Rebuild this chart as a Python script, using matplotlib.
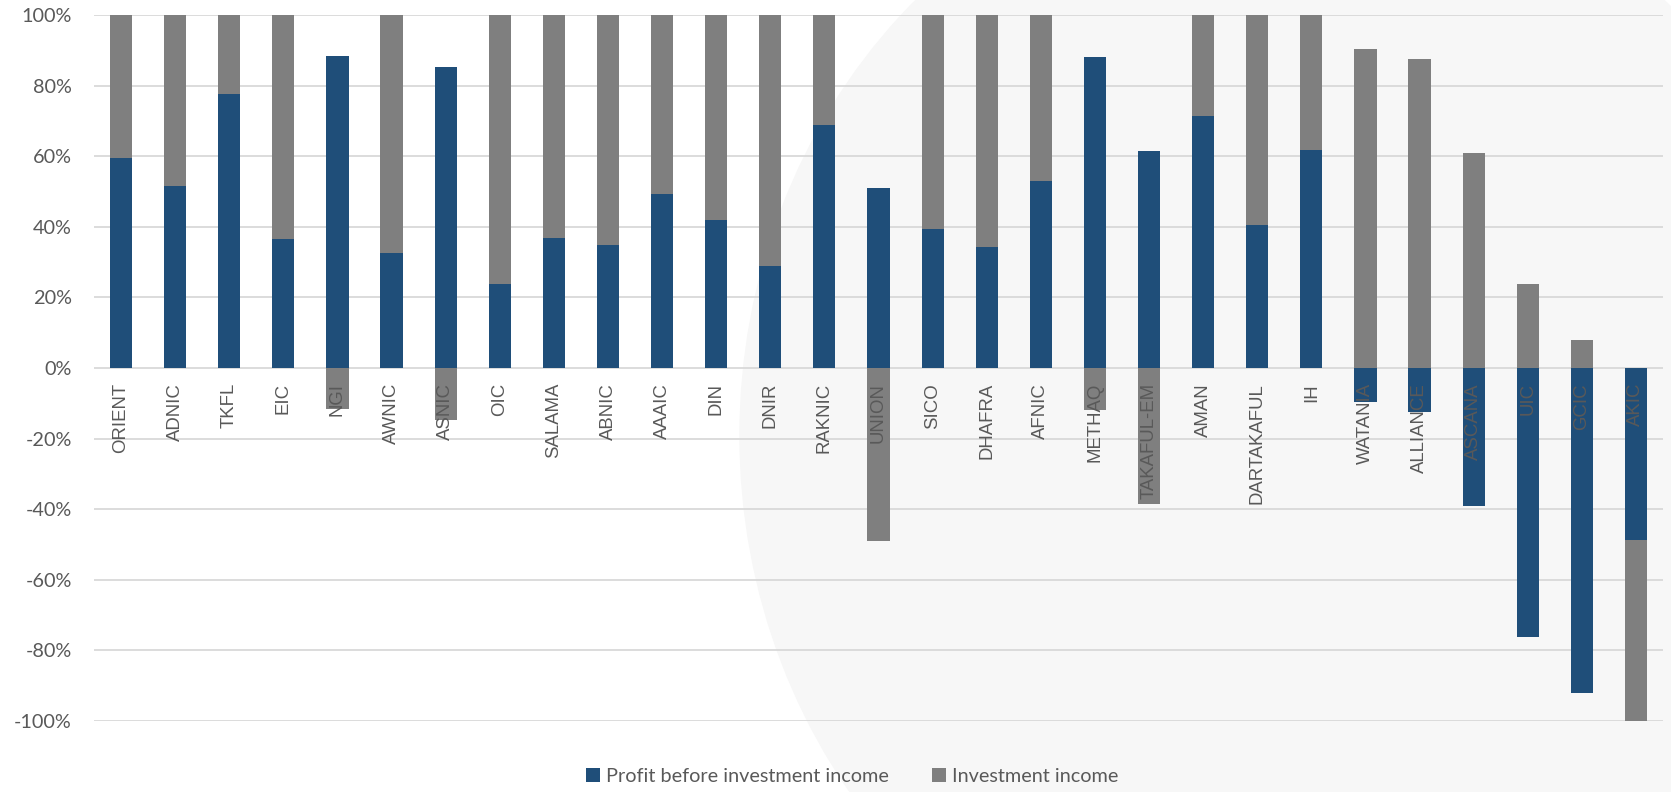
import matplotlib
matplotlib.use("Agg")
import matplotlib.pyplot as plt
import matplotlib.patches as patches
import matplotlib.transforms as mtransforms
from matplotlib.ticker import FuncFormatter

companies = ["ORIENT", "ADNIC", "TKFL", "EIC", "NGI", "AWNIC", "ASNIC", "OIC",
             "SALAMA", "ABNIC", "AAAIC", "DIN", "DNIR", "RAKNIC", "UNION", "SICO",
             "DHAFRA", "AFNIC", "METHAQ", "TAKAFUL-EM", "AMAN", "DARTAKAFUL", "IH",
             "WATANIA", "ALLIANCE", "ASCANA", "UIC", "GCIC", "AKIC"]
profit = [59.5, 51.6, 77.5, 36.5, 88.4, 32.5, 85.2, 23.7, 36.7, 34.8, 49.4, 41.8,
          28.9, 68.8, 51.0, 39.3, 34.2, 52.9, 88.0, 61.5, 71.3, 40.4, 61.7,
          -9.7, -12.5, -39.0, -76.3, -92.2, -48.6]
invest = [40.5, 48.4, 22.5, 63.5, -11.6, 67.5, -14.8, 76.3, 63.3, 65.2, 50.6, 58.2,
          71.1, 31.2, -49.0, 60.7, 65.8, 47.1, -12.0, -38.5, 28.7, 59.6, 38.3,
          90.3, 87.5, 61.0, 23.7, 7.8, -51.4]
series = [("Profit before investment income", profit, "#1f4e79"),
          ("Investment income", invest, "#7f7f7f")]

W, H = 1671, 792
fig = plt.figure(figsize=(W / 100, H / 100), dpi=100)

# faint watermark shape behind the chart
wm = patches.Ellipse((1290 / W, 0.45), 1100 / W, 1.5, transform=fig.transFigure,
                     color="#f7f7f7", zorder=-10)
fig.add_artist(wm)

ax = fig.add_axes([94 / W, 1 - 721 / H, (1663 - 94) / W, (721 - 15) / H])
ax.set_zorder(1)
ax.patch.set_alpha(0)

x = list(range(len(companies)))
pos_base = [0.0] * len(x)
neg_base = [0.0] * len(x)
for name, vals, col in series:
    bottoms = []
    for i, v in enumerate(vals):
        if v >= 0:
            bottoms.append(pos_base[i])
            pos_base[i] += v
        else:
            bottoms.append(neg_base[i])
            neg_base[i] += v
    ax.bar(x, [v / 100 for v in vals], bottom=[b / 100 for b in bottoms],
           width=0.41, color=col, label=name, zorder=3)

ax.set_xlim(-0.5, len(x) - 0.5)
ax.set_ylim(-1, 1)
ax.set_yticks([i / 10 for i in range(-10, 11, 2)])
ax.yaxis.set_major_formatter(FuncFormatter(lambda v, p: "{:.0f}%".format(v * 100)))
ax.grid(axis="y", color="#d9d9d9", lw=1.3, zorder=1)
ax.set_xticks([])
for s in ax.spines.values():
    s.set_visible(False)
ax.tick_params(axis="y", length=0, pad=16, labelsize=14.3, labelcolor="#595959")
for lab in ax.get_yticklabels():
    lab.set_family("Lato")

# category labels hang just under the zero line, over the bars
off = mtransforms.offset_copy(ax.transData, fig=fig, x=0, y=-15, units="dots")
for i, name in enumerate(companies):
    ax.text(i, 0, name, transform=off, rotation=90, ha="center", va="top",
            fontsize=13.4, family="Liberation Sans", color="#595959", zorder=5)

leg = fig.legend(loc="center", bbox_to_anchor=(0.51, 1 - 776 / H), ncol=2,
                 frameon=False, handlelength=0.7, handleheight=0.7,
                 columnspacing=2.2, handletextpad=0.3,
                 prop={"family": "Lato", "size": 14.3})
for t in leg.get_texts():
    t.set_color("#595959")

fig.savefig("out.png", dpi=100)
